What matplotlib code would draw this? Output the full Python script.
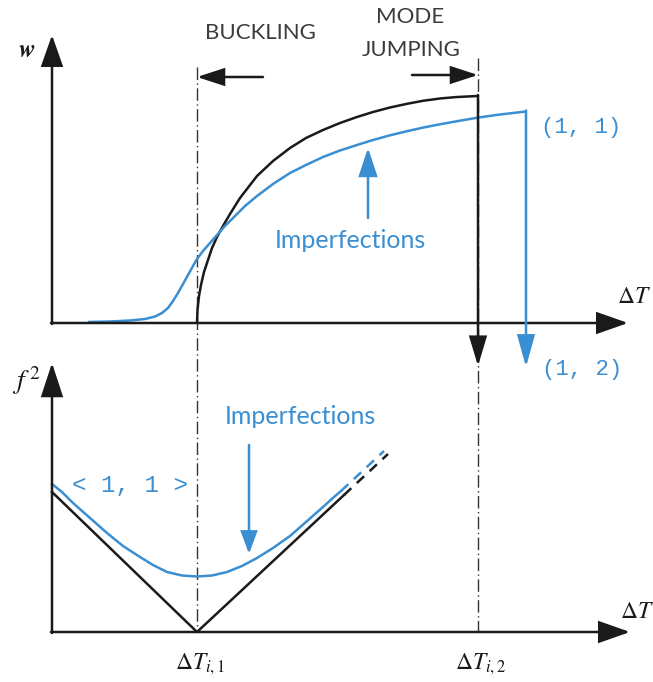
import matplotlib.pyplot as plt
from matplotlib.patches import FancyArrowPatch

# schematic coordinates (x to the right, y downward)
# upper panel: deflection w vs temperature rise
w_perfect_x = [197, 197.5, 199, 201, 204, 208, 212, 217, 223, 230, 240, 257, 273, 290, 306, 323, 340, 357,
               373, 390, 407, 423, 440, 457, 478]
w_perfect_y = [323, 310, 296, 285, 272, 260, 248, 237, 226, 214, 198, 176, 161, 148, 138, 130, 123, 117,
               112, 107.5, 103.8, 100.8, 98.5, 97, 96]
w_imperf_x = [88, 110, 130, 145, 155, 162, 168, 173, 178, 183, 188, 193, 197, 203, 210, 217, 225, 235, 245,
              257, 273, 290, 306, 323, 340, 357, 373, 390, 407, 423, 440, 457, 478, 500, 526]
w_imperf_y = [322, 321.5, 320.5, 319, 316.5, 313, 308, 301, 293, 284, 275, 266, 259, 251, 243, 235, 226, 216,
              206, 196, 184, 173, 165, 157, 150.5, 145, 140, 135.3, 131.2, 127.6, 124.3, 121.2, 117.6, 114.5, 111.5]

# lower panel: squared frequency vs temperature rise
f_perfect_x = [52, 197, 344]
f_perfect_y = [492, 632, 495]
f_perfect_dash_x = [344, 388]
f_perfect_dash_y = [495, 454]
f_imperf_x = [52, 62, 73, 90, 107, 123, 140, 153, 167, 182, 197, 212, 227, 242, 257, 273, 290, 306, 323, 334, 341]
f_imperf_y = [484, 492, 503, 518, 533, 546, 557, 565, 572, 575.5, 576.5, 575.5, 572, 566, 558, 548, 536, 522,
              507, 497, 491]
f_imperf_dash_x = [341, 384]
f_imperf_dash_y = [491, 451]

dT_critical = [197, 478]
dT_labels = [r'$\Delta T_{i,1}$', r'$\Delta T_{i,2}$']

blue = '#3a8ed2'
black = '#1a1a1a'

plt.rcParams['mathtext.fontset'] = 'stix'

fig = plt.figure(figsize=(6.53, 6.82), dpi=100)
ax = fig.add_axes([0, 0, 1, 1])
ax.set_xlim(0, 653)
ax.set_ylim(682, 0)
ax.axis('off')


def arrow(x0, y0, x1, y1, color, hl, hw, lw=1.8):
    # hl, hw in pixels -> points
    a = FancyArrowPatch((x0, y0), (x1, y1),
                        arrowstyle='-|>,head_length=%g,head_width=%g' % (hl * 0.72, hw * 0.72),
                        mutation_scale=1, color=color, lw=lw, shrinkA=0, shrinkB=0,
                        joinstyle='miter', zorder=4)
    ax.add_patch(a)


# axes of both panels
arrow(52, 324, 52, 35, black, 27, 9.5)
arrow(51, 323, 628, 323, black, 27, 9.5)
arrow(52, 633, 52, 363, black, 29, 9.5)
arrow(51, 632, 630, 632, black, 27, 9.5)

# critical temperature guide lines
ax.plot([dT_critical[0]] * 2, [67, 632], color='#333333', lw=1, dashes=(9, 2.5, 1, 2.5))
ax.plot([dT_critical[1]] * 2, [58, 632], color='#333333', lw=1, dashes=(9, 2.5, 1, 2.5))

# upper curves
ax.plot(w_perfect_x, w_perfect_y, color=black, lw=1.8, solid_capstyle='butt', solid_joinstyle='round')
ax.plot(w_imperf_x, w_imperf_y, color=blue, lw=1.8, solid_capstyle='butt', solid_joinstyle='round')
arrow(w_perfect_x[-1], w_perfect_y[-1] - 1, w_perfect_x[-1], 366, black, 25, 7.5)
arrow(w_imperf_x[-1], w_imperf_y[-1] - 1, w_imperf_x[-1], 367, blue, 27, 7.5)

# lower curves
ax.plot(f_perfect_x, f_perfect_y, color=black, lw=1.8)
ax.plot(f_perfect_dash_x, f_perfect_dash_y, color=black, lw=1.8, dashes=(4, 3))
ax.plot(f_imperf_x, f_imperf_y, color=blue, lw=1.8, solid_joinstyle='round')
ax.plot(f_imperf_dash_x, f_imperf_dash_y, color=blue, lw=1.8, dashes=(4, 3))

# imperfection arrows
arrow(368, 218, 368, 148, blue, 24, 8)
arrow(249, 445, 249, 554, blue, 19, 7)

# buckling / mode jumping arrows
arrow(263, 77, 197, 77, black, 23, 7.5, lw=1.8)
arrow(412, 75, 478, 75, black, 23, 7.5, lw=1.8)

gray = '#3c3c3c'
ax.text(260, 33, 'BUCKLING', ha='center', va='center', fontsize=16, color=gray, family='Lato')
ax.text(410, 17, 'MODE', ha='center', va='center', fontsize=16, color=gray, family='Lato')
ax.text(411, 50, 'JUMPING', ha='center', va='center', fontsize=16, color=gray, family='Lato')

ax.text(350, 241, 'Imperfections', ha='center', va='center', fontsize=18, color=blue, family='Lato')
ax.text(300, 416, 'Imperfections', ha='center', va='center', fontsize=18, color=blue, family='Lato')

ax.text(581, 128, '(1, 1)', ha='center', va='center', fontsize=16, color=blue, family='Liberation Mono')
ax.text(582, 369, '(1, 2)', ha='center', va='center', fontsize=16, color=blue, family='Liberation Mono')
ax.text(130, 486, '< 1, 1 >', ha='center', va='center', fontsize=17.5, color=blue, family='Liberation Mono')

ax.text(27, 50, r'$\boldsymbol{w}$', ha='center', va='center', fontsize=18, color=black)
ax.text(26, 381, r'$f^{\,2}$', ha='center', va='center', fontsize=20, color=black)
ax.text(634, 296, r'$\Delta T$', ha='center', va='center', fontsize=17, color=black)
ax.text(637, 611, r'$\Delta T$', ha='center', va='center', fontsize=17, color=black)
for xc, lab in zip(dT_critical, dT_labels):
    ax.text(xc + 3, 664, lab, ha='center', va='center', fontsize=17, color=black)

fig.savefig('out.png', dpi=100)
